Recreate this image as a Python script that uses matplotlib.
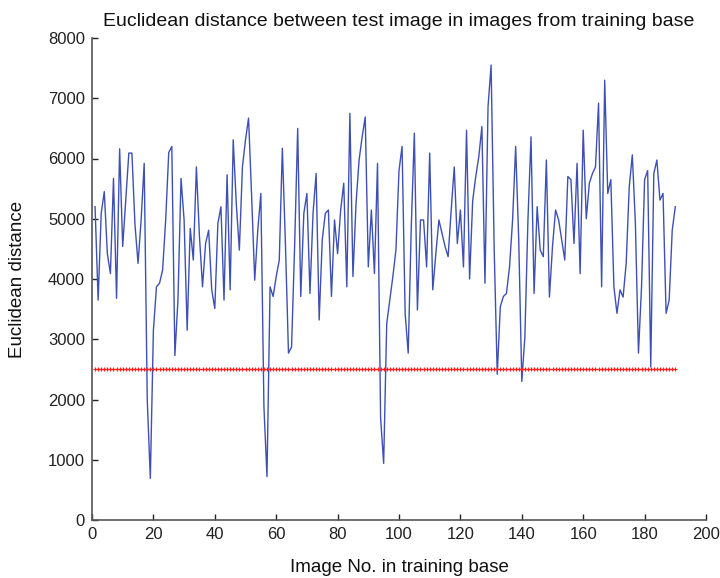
import matplotlib
matplotlib.use("Agg")
import matplotlib.pyplot as plt

distances = [
    5200, 3650, 5090, 5450, 4420, 4090, 5670, 3680, 6160, 4540,
    5310, 6090, 6090, 4900, 4260, 4980, 5920, 1990, 690, 3150,
    3870, 3930, 4150, 4980, 6100, 6200, 2730, 3650, 5670, 4980,
    3150, 4840, 4315, 5860, 4710, 3870, 4590, 4810, 3820, 3510,
    4920, 5200, 3650, 5730, 3820, 6310, 5250, 4480, 5860, 6310,
    6670, 5370, 3980, 4810, 5420, 1880, 720, 3870, 3710, 4040,
    4315, 6170, 4590, 2770, 2870, 4540, 6500, 3710, 5090, 5420,
    3760, 5090, 5750, 3320, 4650, 5090, 5145, 3710, 4980, 4420,
    5145, 5590, 3870, 6750, 4040, 5250, 5975, 6360, 6690, 4200,
    5145, 4090, 5920, 1700, 940, 3260, 3650, 4040, 4480, 5800,
    6200, 3430, 2770, 4870, 6420, 3485, 4980, 4980, 4200, 6090,
    3820, 4420, 4980, 4760, 4540, 4370, 5145, 5860, 4590, 5145,
    4200, 6470, 4000, 5300, 5700, 6030, 6530, 3930, 6860, 7550,
    4500, 2420, 3540, 3710, 3760, 4200, 4980, 6200, 4650, 2300,
    3040, 4980, 6360, 3760, 5200, 4480, 4370, 5975, 3700, 4540,
    5145, 4980, 4650, 4315, 5700, 5650, 4590, 5920, 4090, 6470,
    5000, 5590, 5750, 5860, 6920, 3870, 7300, 5420, 5650, 3870,
    3430, 3820, 3700, 4260, 5530, 6060, 4920, 2770, 3870, 5650,
    5800, 2540, 5750, 5975, 5310, 5420, 3430, 3650, 4810, 5200,
]
image_no = list(range(1, len(distances) + 1))
threshold = [2500] * len(distances)

title = "Euclidean distance between test image in images from training base"
xlabel = "Image No. in training base"
ylabel = "Euclidean distance"
xticks = [0, 20, 40, 60, 80, 100, 120, 140, 160, 180, 200]
yticks = [0, 1000, 2000, 3000, 4000, 5000, 6000, 7000, 8000]

plt.rcParams['font.family'] = ['Liberation Sans', 'DejaVu Sans']

fig = plt.figure(figsize=(7.2, 5.78), dpi=100)
ax = fig.add_axes([92/720, 1-520/578, (706-92)/720, (520-38)/578])

ax.plot(image_no, distances, color='#3e50b4', linewidth=1.0)
ax.plot(image_no, threshold, color='#ff2020', linewidth=1.0,
        marker='+', markersize=3.5, markeredgewidth=0.8)

ax.set_xlim(0, 200)
ax.set_ylim(0, 8000)
ax.set_xticks(xticks)
ax.set_yticks(yticks)
ax.tick_params(direction='in', length=4, width=1, labelsize=12, colors='#222222', pad=5)
for s in ['top', 'right']:
    ax.spines[s].set_visible(False)
for s in ['left', 'bottom']:
    ax.spines[s].set_color('#555555')
    ax.spines[s].set_linewidth(1.2)

ax.set_title(title, fontsize=14, pad=9, color='#111111')
ax.set_xlabel(xlabel, fontsize=13.5, labelpad=12, color='#111111')
ax.set_ylabel(ylabel, fontsize=13.5, labelpad=16, color='#111111')

fig.savefig('out.png', dpi=100)
